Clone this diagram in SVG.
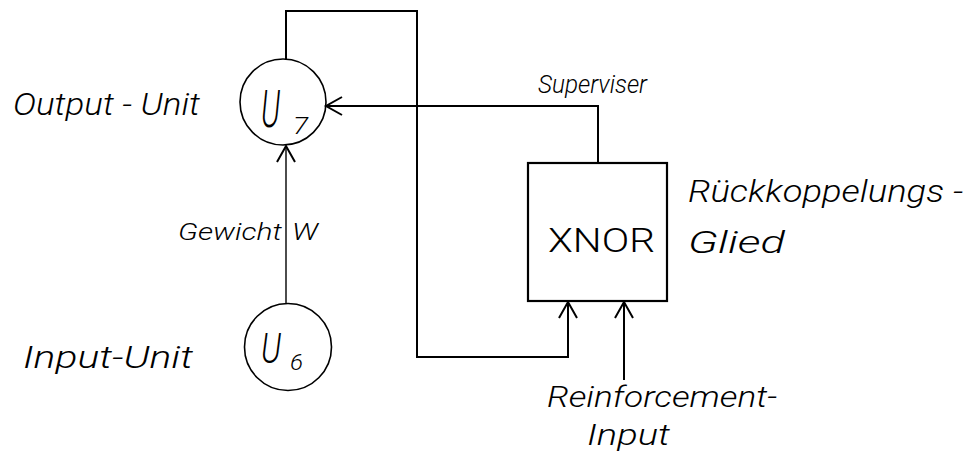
<svg xmlns="http://www.w3.org/2000/svg" width="966" height="452" viewBox="0 0 966 452">
<style>
.bg{fill:#fff}
.node{fill:none;stroke:#000;stroke-width:1.6}
.box{fill:none;stroke:#000;stroke-width:2.2}
.conn{fill:none;stroke:#000;stroke-width:2}
.thin{stroke-width:1.4}
.t{font-family:Roboto,"DejaVu Sans",sans-serif;font-weight:300;font-style:italic;fill:#000}
.up{font-style:normal}
</style>
<defs>
<marker id="arr" viewBox="-17 -12 19 24" refX="0" refY="0" markerWidth="19" markerHeight="24" markerUnits="userSpaceOnUse" orient="auto" overflow="visible">
<path d="M-16,-9 L0,0 L-16,9" fill="none" stroke="#000" stroke-width="2"/>
</marker>
</defs>
<rect class="bg" x="0" y="0" width="966" height="452"/>
<g id="connectors">
<path class="conn" d="M286,59 V11 H417 V357 H568 V302" marker-end="url(#arr)"/>
<path class="conn" d="M598,163 V106 H326" marker-end="url(#arr)"/>
<path class="conn thin" d="M286,303 V146" marker-end="url(#arr)"/>
<path class="conn" d="M624,380 V302" marker-end="url(#arr)"/>
</g>
<g id="output-unit">
<circle class="node" cx="283" cy="102" r="43"/>
<text class="t" x="261" y="127" font-size="52" textLength="19" lengthAdjust="spacingAndGlyphs">U</text>
<text class="t" x="293" y="134" font-size="23" textLength="15" lengthAdjust="spacingAndGlyphs">7</text>
<text class="t" x="13" y="115" font-size="32" textLength="187" lengthAdjust="spacingAndGlyphs">Output - Unit</text>
</g>
<g id="input-unit">
<circle class="node" cx="288" cy="347" r="43.5"/>
<text class="t" x="261" y="363" font-size="42" textLength="20" lengthAdjust="spacingAndGlyphs">U</text>
<text class="t" x="290" y="370" font-size="22" textLength="13" lengthAdjust="spacingAndGlyphs">6</text>
<text class="t" x="23" y="368" font-size="32" textLength="170" lengthAdjust="spacingAndGlyphs">Input-Unit</text>
</g>
<g id="weight-label">
<text class="t" x="178" y="240" font-size="23" textLength="104" lengthAdjust="spacingAndGlyphs">Gewicht</text>
<text class="t" x="292" y="240" font-size="23" textLength="26" lengthAdjust="spacingAndGlyphs">W</text>
</g>
<g id="supervisor-label">
<text class="t" x="538" y="93" font-size="25" textLength="109" lengthAdjust="spacingAndGlyphs">Superviser</text>
</g>
<g id="xnor">
<rect class="box" x="528" y="163" width="139" height="138"/>
<text class="t up" x="548" y="252" font-size="34" textLength="107" lengthAdjust="spacingAndGlyphs">XNOR</text>
<text class="t" x="688" y="202" font-size="31" textLength="275" lengthAdjust="spacingAndGlyphs">Rückkoppelungs -</text>
<text class="t" x="688" y="253" font-size="31" textLength="97" lengthAdjust="spacingAndGlyphs">Glied</text>
</g>
<g id="reinforcement-input">
<text class="t" x="547" y="407" font-size="30" textLength="230" lengthAdjust="spacingAndGlyphs">Reinforcement-</text>
<text class="t" x="587" y="445" font-size="30" textLength="83" lengthAdjust="spacingAndGlyphs">Input</text>
</g>
</svg>
